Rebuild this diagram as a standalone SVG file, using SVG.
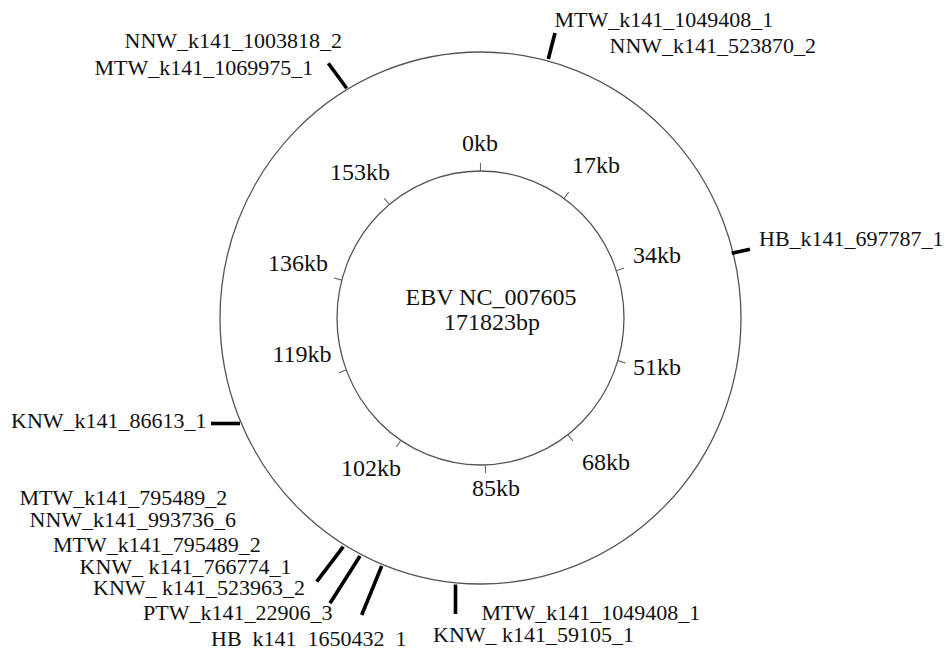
<svg xmlns="http://www.w3.org/2000/svg" width="945" height="648" viewBox="0 0 945 648">
<style>
.ring{fill:none;stroke:#555;stroke-width:1.3}
.tk{stroke:#666;stroke-width:1.1}
.ct{stroke:#000;stroke-width:3.6;stroke-linecap:butt}
text{font-family:"Liberation Serif","Times New Roman",serif;fill:#111}
.lb{font-size:22px}
.kb{font-size:24px;text-anchor:middle}
.cen{font-size:24px;text-anchor:middle}
</style>
<rect width="945" height="648" fill="#fff"/>
<g id="genome">
<ellipse class="ring" cx="480.5" cy="318" rx="260.5" ry="266"/>
<ellipse class="ring" cx="480.5" cy="318" rx="143.5" ry="147"/>
<text class="cen" x="491" y="305">EBV NC_007605</text>
<text class="cen" x="492" y="330">171823bp</text>
</g>
<g id="scale">
<line class="tk" x1="480.5" y1="171" x2="480.5" y2="163"/>
<line class="tk" x1="564.06" y1="198.49" x2="568.7" y2="192"/>
<line class="tk" x1="616.37" y1="270.71" x2="624" y2="268.1"/>
<line class="tk" x1="617.84" y1="360.62" x2="625.5" y2="363"/>
<line class="tk" x1="567.91" y1="434.59" x2="572.8" y2="441"/>
<line class="tk" x1="485.28" y1="464.92" x2="485.55" y2="472.9"/>
<line class="tk" x1="400.87" y1="440.29" x2="396.4" y2="447"/>
<line class="tk" x1="346.24" y1="369.89" x2="338.8" y2="372.7"/>
<line class="tk" x1="341.85" y1="280.10" x2="334.1" y2="278"/>
<line class="tk" x1="389.36" y1="204.46" x2="384.3" y2="198.3"/>
<text class="kb" x="480" y="151">0kb</text>
<text class="kb" x="596" y="173">17kb</text>
<text class="kb" x="657" y="263">34kb</text>
<text class="kb" x="657" y="375">51kb</text>
<text class="kb" x="606" y="470">68kb</text>
<text class="kb" x="496" y="496">85kb</text>
<text class="kb" x="371" y="476">102kb</text>
<text class="kb" x="302" y="362">119kb</text>
<text class="kb" x="298" y="271">136kb</text>
<text class="kb" x="360" y="180">153kb</text>
</g>
<g id="connectors">
<line class="ct" x1="548.3" y1="59" x2="555" y2="33"/>
<line class="ct" x1="731.7" y1="253.3" x2="750" y2="249.3"/>
<line class="ct" x1="211" y1="423.5" x2="240" y2="423.5"/>
<line class="ct" x1="328.3" y1="63.3" x2="346.7" y2="88.3"/>
<line class="ct" x1="343.3" y1="546.7" x2="316.7" y2="581.7"/>
<line class="ct" x1="360" y1="556" x2="330" y2="603.3"/>
<line class="ct" x1="381.7" y1="566" x2="361.7" y2="615"/>
<line class="ct" x1="455.5" y1="584.5" x2="455.5" y2="614"/>
</g>
<g id="contig-top">
<text class="lb" x="554.5" y="27">MTW_k141_1049408_1</text>
<text class="lb" x="609.5" y="53">NNW_k141_523870_2</text>
</g>
<g id="contig-right">
<text class="lb" x="759" y="246">HB_k141_697787_1</text>
</g>
<g id="contig-upperleft">
<text class="lb" x="124.5" y="48">NNW_k141_1003818_2</text>
<text class="lb" x="94.5" y="75">MTW_k141_1069975_1</text>
</g>
<g id="contig-left">
<text class="lb" x="11" y="428">KNW_k141_86613_1</text>
</g>
<g id="contig-bottomleft">
<text class="lb" x="19.5" y="505">MTW_k141_795489_2</text>
<text class="lb" x="29.5" y="527">NNW_k141_993736_6</text>
<text class="lb" x="53" y="552">MTW_k141_795489_2</text>
<text class="lb" x="79.5" y="573.5">KNW_ k141_766774_1</text>
<text class="lb" x="93" y="595">KNW_ k141_523963_2</text>
<text class="lb" x="143" y="620">PTW_k141_22906_3</text>
<text class="lb" x="211" y="645.5">HB_k141_1650432_1</text>
</g>
<g id="contig-bottom">
<text class="lb" x="481.5" y="620">MTW_k141_1049408_1</text>
<text class="lb" x="433" y="642">KNW_ k141_59105_1</text>
</g>
</svg>
